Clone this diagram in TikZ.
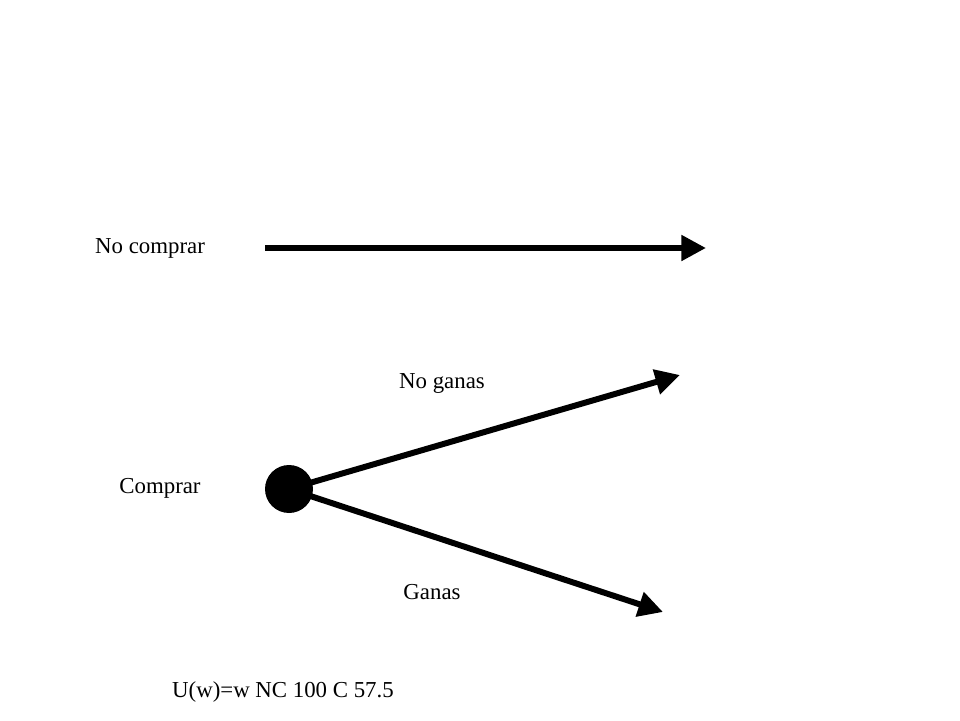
\documentclass[tikz,border=0pt]{standalone}
\usepackage{fontspec}
\setmainfont{Liberation Serif}
\usetikzlibrary{arrows.meta}
\begin{document}
\begin{tikzpicture}[x=0.02cm,y=-0.02cm,font=\fontsize{13}{15}\selectfont,
  branch/.style={line width=3.4pt,-{Triangle[length=14pt,width=14pt]}}]
  \useasboundingbox (0,0) rectangle (960,720);
  \node (nocomprar) at (150,248) {No comprar};
  \coordinate (a1) at (265,248);
  \coordinate (a2) at (706,248);
  \draw[branch] (a1) -- (a2);
  \node[circle,fill,minimum size=0.96cm,inner sep=0] (chance) at (289,489) {};
  \node (comprar) at (160,488) {Comprar};
  \coordinate (up) at (680,375);
  \coordinate (down) at (663,612);
  \draw[branch] (chance.center) -- (up);
  \draw[branch] (chance.center) -- (down);
  \node (noganas) at (442,383) {No ganas};
  \node (ganas) at (432,592) {Ganas};
  \node (util) at (283,692) {U(w)=w NC 100 C 57.5};
\end{tikzpicture}
\end{document}
